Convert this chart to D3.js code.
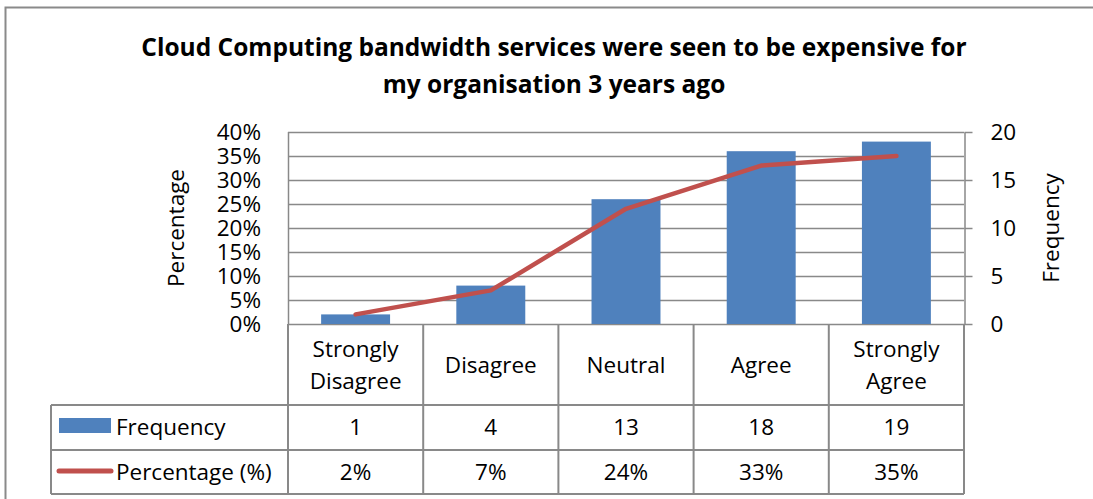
<!DOCTYPE html>
<html>
<head>
<meta charset="utf-8">
<script src="https://cdn.jsdelivr.net/npm/d3@7"></script>
<style>
  body { margin: 0; background: #fff; }
  svg { display: block; font-family: "Open Sans", sans-serif; }
</style>
</head>
<body>
<script>
// data
var categories = [["Strongly", "Disagree"], ["Disagree"], ["Neutral"], ["Agree"], ["Strongly", "Agree"]];
var frequency = [1, 4, 13, 18, 19];
var percentage = [0.02, 0.07, 0.24, 0.33, 0.35];
var pctTicks = [0, 0.05, 0.10, 0.15, 0.20, 0.25, 0.30, 0.35, 0.40];
var freqTicks = [0, 5, 10, 15, 20];
var titleLines = ["Cloud Computing bandwidth services were seen to be expensive for", "my organisation 3 years ago"];

var width = 1093, height = 499;
var plotLeft = 288, plotRight = 964, plotTop = 132, plotBottom = 324;
var tableLeft = 51;
var rowLines = [324, 405, 450, 494];
var fontSize = 22.5;

var barColor = "#4F81BD", lineColor = "#C0504D", gridColor = "#898989";

var svg = d3.select("body").append("svg")
    .attr("width", width)
    .attr("height", height);

// outer chart frame (only top and left edges visible)
svg.append("path")
    .attr("d", "M5.5,499V7.5H1093")
    .attr("fill", "none")
    .attr("stroke", "#8a8a8a")
    .attr("stroke-width", 2);

// title
var title = svg.append("g").attr("font-weight", "bold").attr("font-size", 24.5).attr("text-anchor", "middle");
titleLines.forEach(function(t, i) {
    title.append("text").attr("x", 554).attr("y", 56 + i * 37).text(t);
});

var idx = d3.range(categories.length);
var x = d3.scaleBand().domain(idx).range([plotLeft, plotRight]).paddingInner(0.49).paddingOuter(0.245);
var xStep = d3.scaleBand().domain(idx).range([plotLeft, plotRight]);
var yPct = d3.scaleLinear().domain([0, 0.4]).range([plotBottom, plotTop]);
var yFreq = d3.scaleLinear().domain([0, 20]).range([plotBottom, plotTop]);

// gridlines
svg.append("g").selectAll("line").data(pctTicks).enter().append("line")
    .attr("x1", plotLeft).attr("x2", plotRight)
    .attr("y1", function(d) { return Math.round(yPct(d)) + 0.5; })
    .attr("y2", function(d) { return Math.round(yPct(d)) + 0.5; })
    .attr("stroke", gridColor).attr("stroke-width", 1.5);

// plot left edge
svg.append("line").attr("x1", plotLeft + 0.5).attr("x2", plotLeft + 0.5).attr("y1", plotTop).attr("y2", plotBottom)
    .attr("stroke", gridColor).attr("stroke-width", 1.5);

// bars
svg.append("g").selectAll("rect").data(frequency).enter().append("rect")
    .attr("x", function(d, i) { return x(i); })
    .attr("width", x.bandwidth())
    .attr("y", function(d) { return yFreq(d); })
    .attr("height", function(d) { return plotBottom - yFreq(d); })
    .attr("fill", barColor);

// left axis
var leftAxis = svg.append("g")
    .attr("transform", "translate(" + plotLeft + ",0)")
    .call(d3.axisLeft(yPct).tickValues(pctTicks).tickFormat(d3.format(".0%")).tickSize(0).tickPadding(27));
leftAxis.select(".domain").remove();
leftAxis.selectAll("text").attr("font-size", fontSize).attr("font-family", "Open Sans").attr("fill", "#000");

// right axis
var rightAxis = svg.append("g")
    .attr("transform", "translate(" + (plotRight + 0.5) + ",0)")
    .call(d3.axisRight(yFreq).tickValues(freqTicks).tickSize(8).tickSizeOuter(0).tickPadding(18));
rightAxis.select(".domain").attr("stroke", gridColor).attr("stroke-width", 1.5);
rightAxis.selectAll(".tick line").attr("stroke", gridColor).attr("stroke-width", 1.5);
rightAxis.selectAll("text").attr("font-size", fontSize).attr("font-family", "Open Sans").attr("fill", "#000");

// percentage line
var line = d3.line()
    .x(function(d, i) { return x(i) + x.bandwidth() / 2; })
    .y(function(d) { return yPct(d); });
svg.append("path")
    .datum(percentage)
    .attr("d", line)
    .attr("fill", "none")
    .attr("stroke", lineColor)
    .attr("stroke-width", 4.5)
    .attr("stroke-linejoin", "round")
    .attr("stroke-linecap", "round");

// axis titles
svg.append("text")
    .attr("transform", "translate(184,228) rotate(-90)")
    .attr("text-anchor", "middle").attr("font-size", fontSize)
    .text("Percentage");
svg.append("text")
    .attr("transform", "translate(1059,228) rotate(-90)")
    .attr("text-anchor", "middle").attr("font-size", fontSize)
    .text("Frequency");

// data table
var table = svg.append("g").attr("stroke", gridColor).attr("stroke-width", 2).attr("fill", "none");
// horizontal lines
table.append("line").attr("x1", tableLeft).attr("x2", plotRight).attr("y1", rowLines[1]).attr("y2", rowLines[1]);
table.append("line").attr("x1", tableLeft).attr("x2", plotRight).attr("y1", rowLines[2]).attr("y2", rowLines[2]);
table.append("line").attr("x1", tableLeft).attr("x2", plotRight).attr("y1", rowLines[3]).attr("y2", rowLines[3]);
// vertical lines
table.append("line").attr("x1", tableLeft).attr("x2", tableLeft).attr("y1", rowLines[1]).attr("y2", rowLines[3]);
table.selectAll(".v").data(idx.concat([categories.length])).enter().append("line")
    .attr("x1", function(d) { return d < categories.length ? xStep(d) : plotRight; })
    .attr("x2", function(d) { return d < categories.length ? xStep(d) : plotRight; })
    .attr("y1", rowLines[0]).attr("y2", rowLines[3]);

var cells = svg.append("g").attr("text-anchor", "middle").attr("font-size", fontSize);
categories.forEach(function(c, i) {
    var cx = xStep(i) + xStep.bandwidth() / 2;
    var t = cells.append("text").attr("x", cx);
    var y0 = c.length == 1 ? 373 : 357;
    c.forEach(function(part, j) {
        t.append("tspan").attr("x", cx).attr("y", y0 + j * 32).text(part);
    });
    cells.append("text").attr("x", cx).attr("y", 435).text(frequency[i]);
    cells.append("text").attr("x", cx).attr("y", 480).text(d3.format(".0%")(percentage[i]));
});

// legend keys inside table
svg.append("rect").attr("x", 59).attr("y", 418).attr("width", 52).attr("height", 15).attr("fill", barColor);
svg.append("line").attr("x1", 59).attr("x2", 111).attr("y1", 471).attr("y2", 471)
    .attr("stroke", lineColor).attr("stroke-width", 5).attr("stroke-linecap", "round");
svg.append("text").attr("x", 116).attr("y", 435).attr("font-size", fontSize).text("Frequency");
svg.append("text").attr("x", 116).attr("y", 480).attr("font-size", fontSize).text("Percentage (%)");
</script>
</body>
</html>
